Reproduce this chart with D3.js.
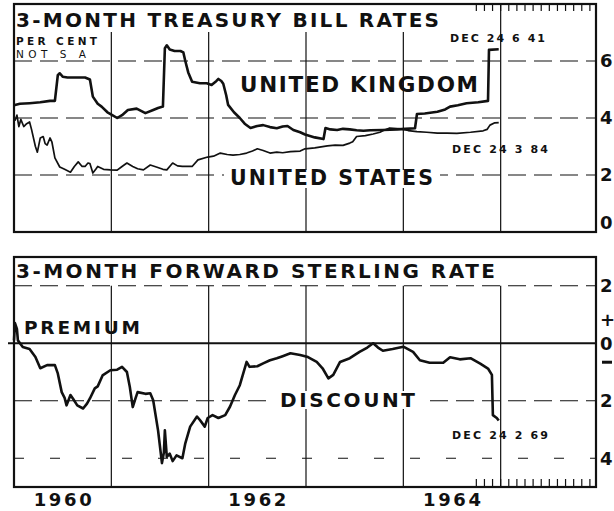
<!DOCTYPE html>
<html>
<head>
<meta charset="utf-8">
<script src="https://cdn.jsdelivr.net/npm/d3@7"></script>
<style>
  body { margin: 0; background: #fff; }
  svg { display: block; }
  text { font-family: "DejaVu Sans", sans-serif; font-weight: bold; fill: #111; }
</style>
</head>
<body>
<div id="chart"></div>
<script>
// weekly-ish readings, [decimal year, per cent]
var ukBill = [
  [1960.00, 4.45], [1960.06, 4.50], [1960.16, 4.52], [1960.27, 4.55], [1960.37, 4.60], [1960.42, 4.60],
  [1960.45, 5.50], [1960.47, 5.57], [1960.50, 5.45], [1960.55, 5.42], [1960.63, 5.42], [1960.73, 5.42],
  [1960.78, 5.35], [1960.81, 4.75], [1960.86, 4.50], [1960.90, 4.40], [1960.96, 4.20], [1961.01, 4.10],
  [1961.06, 4.00], [1961.11, 4.10], [1961.17, 4.28], [1961.26, 4.33], [1961.35, 4.17], [1961.43, 4.28],
  [1961.48, 4.35], [1961.53, 4.40], [1961.55, 6.45], [1961.57, 6.55], [1961.60, 6.40], [1961.65, 6.35],
  [1961.71, 6.35], [1961.74, 6.30], [1961.76, 6.00], [1961.79, 5.60], [1961.83, 5.27], [1961.91, 5.22],
  [1961.98, 5.22], [1962.03, 5.16], [1962.08, 5.30], [1962.10, 5.37], [1962.13, 5.30], [1962.15, 5.20],
  [1962.18, 4.80], [1962.20, 4.46], [1962.26, 4.20], [1962.32, 4.00], [1962.37, 3.80], [1962.43, 3.65],
  [1962.50, 3.72], [1962.56, 3.75], [1962.63, 3.68], [1962.70, 3.64], [1962.76, 3.70], [1962.81, 3.72],
  [1962.87, 3.58], [1962.94, 3.50], [1962.99, 3.42], [1963.09, 3.32], [1963.18, 3.26], [1963.20, 3.65],
  [1963.25, 3.60], [1963.32, 3.58], [1963.38, 3.62], [1963.45, 3.60], [1963.52, 3.57], [1963.59, 3.55],
  [1963.66, 3.57], [1963.79, 3.58], [1963.94, 3.60], [1964.02, 3.62], [1964.12, 3.64], [1964.14, 4.14],
  [1964.22, 4.16], [1964.35, 4.22], [1964.43, 4.30], [1964.48, 4.40], [1964.56, 4.45], [1964.65, 4.52],
  [1964.77, 4.55], [1964.87, 4.60], [1964.88, 6.39], [1964.98, 6.41]
];
var usBill = [
  [1960.01, 3.90], [1960.03, 4.10], [1960.05, 3.70], [1960.07, 3.95], [1960.10, 3.70], [1960.13, 3.80],
  [1960.16, 3.86], [1960.18, 3.60], [1960.22, 3.00], [1960.24, 2.80], [1960.27, 3.30], [1960.30, 3.35],
  [1960.32, 3.10], [1960.34, 3.05], [1960.37, 3.30], [1960.39, 3.15], [1960.42, 2.60], [1960.47, 2.28],
  [1960.52, 2.20], [1960.58, 2.10], [1960.62, 2.30], [1960.66, 2.46], [1960.70, 2.30], [1960.73, 2.30],
  [1960.76, 2.42], [1960.78, 2.40], [1960.81, 2.07], [1960.84, 2.20], [1960.86, 2.30], [1960.92, 2.20],
  [1960.99, 2.18], [1961.06, 2.17], [1961.11, 2.30], [1961.16, 2.42], [1961.22, 2.30], [1961.27, 2.22],
  [1961.33, 2.18], [1961.40, 2.35], [1961.47, 2.27], [1961.53, 2.20], [1961.57, 2.18], [1961.63, 2.42],
  [1961.68, 2.32], [1961.73, 2.30], [1961.83, 2.30], [1961.89, 2.53], [1961.99, 2.63], [1962.05, 2.66],
  [1962.12, 2.77], [1962.19, 2.72], [1962.25, 2.70], [1962.32, 2.72], [1962.39, 2.77], [1962.45, 2.84],
  [1962.50, 2.92], [1962.56, 2.86], [1962.63, 2.77], [1962.70, 2.80], [1962.76, 2.78], [1962.84, 2.82],
  [1962.94, 2.84], [1962.99, 2.92], [1963.09, 2.95], [1963.22, 3.02], [1963.30, 3.05], [1963.38, 3.04],
  [1963.45, 3.12], [1963.48, 3.17], [1963.52, 3.35], [1963.61, 3.38], [1963.69, 3.44], [1963.76, 3.50],
  [1963.79, 3.55], [1963.86, 3.65], [1963.97, 3.62], [1964.05, 3.56], [1964.14, 3.52], [1964.24, 3.50],
  [1964.35, 3.47], [1964.45, 3.47], [1964.55, 3.46], [1964.69, 3.50], [1964.82, 3.55], [1964.86, 3.60],
  [1964.89, 3.75], [1964.94, 3.83], [1964.98, 3.84]
];
// premium (+) / discount (-) per cent per annum
var fwdSterling = [
  [1960.00, 0.10], [1960.01, 0.70], [1960.03, 0.50], [1960.04, 0.10], [1960.09, -0.13], [1960.16, -0.20],
  [1960.22, -0.48], [1960.27, -0.87], [1960.34, -0.76], [1960.42, -0.76], [1960.45, -1.05], [1960.49, -1.70],
  [1960.52, -1.90], [1960.54, -2.16], [1960.58, -1.80], [1960.61, -1.95], [1960.65, -2.16], [1960.71, -2.27],
  [1960.75, -2.10], [1960.78, -1.92], [1960.83, -1.57], [1960.86, -1.50], [1960.91, -1.12], [1960.99, -0.94],
  [1961.06, -0.92], [1961.11, -0.82], [1961.16, -1.00], [1961.19, -1.52], [1961.22, -2.22], [1961.25, -1.90],
  [1961.27, -1.70], [1961.35, -1.76], [1961.40, -1.74], [1961.43, -1.98], [1961.48, -3.03], [1961.52, -4.17],
  [1961.54, -3.80], [1961.55, -3.03], [1961.57, -3.95], [1961.60, -3.84], [1961.63, -4.10], [1961.67, -3.90],
  [1961.73, -4.00], [1961.76, -3.48], [1961.81, -2.90], [1961.88, -2.55], [1961.91, -2.67], [1961.96, -2.90],
  [1961.99, -2.60], [1962.04, -2.50], [1962.10, -2.60], [1962.17, -2.50], [1962.22, -2.20], [1962.27, -1.80],
  [1962.32, -1.46], [1962.39, -0.65], [1962.42, -0.82], [1962.50, -0.80], [1962.56, -0.70], [1962.63, -0.59],
  [1962.70, -0.52], [1962.76, -0.45], [1962.84, -0.35], [1962.94, -0.41], [1963.02, -0.48], [1963.11, -0.65],
  [1963.17, -0.87], [1963.23, -1.22], [1963.28, -1.10], [1963.35, -0.65], [1963.45, -0.52], [1963.55, -0.30],
  [1963.63, -0.15], [1963.69, 0.00], [1963.74, -0.15], [1963.79, -0.26], [1963.89, -0.20], [1964.00, -0.12],
  [1964.10, -0.30], [1964.17, -0.59], [1964.27, -0.68], [1964.41, -0.68], [1964.48, -0.49], [1964.58, -0.56],
  [1964.69, -0.52], [1964.79, -0.71], [1964.87, -0.88], [1964.91, -1.10], [1964.92, -2.50], [1964.96, -2.60],
  [1964.98, -2.69]
];
var yearLines = [1961, 1962, 1963, 1964, 1965];
var yearLabels = [1960, 1962, 1964];
var topGrid = [2, 4, 6];
var topLabels = [0, 2, 4, 6];
var botGrid = [2, -2, -4];
var botLabels = [2, 0, -2, -4];

var W = 614, H = 511, L = 14, R = 596;

var svg = d3.select('#chart').append('svg')
  .attr('width', W)
  .attr('height', H);

var x = d3.scaleLinear().domain([1960, 1966]).range([L, 598]);
var yTop = d3.scaleLinear().domain([0, 8]).range([232, 4]);
var yBot = d3.scaleLinear().domain([-5, 3]).range([487, 257]);

var ink = '#111';

function hline(g, y, x1, x2, w, dash) {
  g.append('line')
    .attr('x1', x1).attr('x2', x2)
    .attr('y1', y).attr('y2', y)
    .style('stroke', ink)
    .style('stroke-width', w)
    .style('stroke-dasharray', dash || null);
}

function label(g, txt, x0, y0, size, len, anchor, weight) {
  return g.append('text')
    .attr('x', x0).attr('y', y0)
    .attr('font-size', size)
    .attr('textLength', len)
    .attr('lengthAdjust', 'spacing')
    .attr('text-anchor', anchor || 'start')
    .style('font-weight', weight || 'bold')
    .text(txt);
}

function mask(g, x0, y0, w, h) {
  g.append('rect').attr('x', x0).attr('y', y0).attr('width', w).attr('height', h).style('fill', '#fff');
}

// ---------- top panel ----------
var gTop = svg.append('g');

yearLines.forEach(function (yr) {
  gTop.append('line')
    .attr('x1', x(yr)).attr('x2', x(yr))
    .attr('y1', yTop(8)).attr('y2', yTop(0))
    .style('stroke', ink).style('stroke-width', 1.2);
});
topGrid.forEach(function (v) { hline(gTop, yTop(v), L, R, 1.2, '18,8'); });

// monthly ticks hanging from top edge
d3.range(0, 15).forEach(function (i) {
  var t = 1964.75 + i / 12;
  gTop.append('line')
    .attr('x1', x(t)).attr('x2', x(t))
    .attr('y1', yTop(8)).attr('y2', yTop(8) + 7)
    .style('stroke', ink).style('stroke-width', 1.2);
});

mask(gTop, L + 1, 5, 433, 27);
mask(gTop, 224, 170, 216, 18);

var line = d3.line()
  .x(function (d) { return x(d[0]); })
  .y(function (d) { return yTop(d[1]); });

gTop.append('path').datum(usBill)
  .attr('d', line)
  .style('fill', 'none').style('stroke', ink).style('stroke-width', 1.7)
  .style('stroke-linejoin', 'round');
gTop.append('path').datum(ukBill)
  .attr('d', line)
  .style('fill', 'none').style('stroke', ink).style('stroke-width', 2.6)
  .style('stroke-linejoin', 'round');

gTop.append('rect')
  .attr('x', L).attr('y', yTop(8)).attr('width', R - L).attr('height', yTop(0) - yTop(8))
  .style('fill', 'none').style('stroke', ink).style('stroke-width', 2.2);

label(gTop, '3-MONTH TREASURY BILL RATES', 16, 27, 20, 423);
label(gTop, 'PER CENT', 16, 45, 10.5, 81);
label(gTop, 'NOT S A', 16, 58, 10.5, 70, 'start', 'normal');
label(gTop, 'DEC 24 6 41', 450, 42, 11, 95);
label(gTop, 'UNITED KINGDOM', 240, 92, 21.5, 238);
label(gTop, 'UNITED STATES', 230, 185, 20.5, 203);
label(gTop, 'DEC 24 3 84', 452, 153, 11, 96);

topLabels.forEach(function (v) {
  gTop.append('text')
    .attr('x', 600)
    .attr('y', v === 0 ? yTop(v) - 9 : yTop(v))
    .attr('dy', '0.36em')
    .attr('font-size', 18)
    .text(v);
});

// ---------- bottom panel ----------
var gBot = svg.append('g');

yearLines.forEach(function (yr) {
  gBot.append('line')
    .attr('x1', x(yr)).attr('x2', x(yr))
    .attr('y1', yBot(2)).attr('y2', yBot(-5))
    .style('stroke', ink).style('stroke-width', 1.2);
});
botGrid.forEach(function (v) { hline(gBot, yBot(v), L, R, 1.2, v === -4 ? '10,26' : '18,8'); });
hline(gBot, yBot(0), 8, R, 2.2);

d3.range(0, 15).forEach(function (i) {
  var t = 1964.75 + i / 12;
  gBot.append('line')
    .attr('x1', x(t)).attr('x2', x(t))
    .attr('y1', yBot(-5)).attr('y2', yBot(-5) - 8)
    .style('stroke', ink).style('stroke-width', 1.2);
});

mask(gBot, 272, 391, 150, 18);

var lineB = d3.line()
  .x(function (d) { return x(d[0]); })
  .y(function (d) { return yBot(d[1]); });

gBot.append('path').datum(fwdSterling)
  .attr('d', lineB)
  .style('fill', 'none').style('stroke', ink).style('stroke-width', 2.6)
  .style('stroke-linejoin', 'round');

gBot.append('rect')
  .attr('x', L).attr('y', yBot(3)).attr('width', R - L).attr('height', yBot(-5) - yBot(3))
  .style('fill', 'none').style('stroke', ink).style('stroke-width', 2.2);

label(gBot, '3-MONTH FORWARD STERLING RATE', 16, 278, 20, 479);
label(gBot, 'PREMIUM', 24, 334, 18.5, 116);
label(gBot, 'DISCOUNT', 280, 407, 20, 135);
label(gBot, 'DEC 24 2 69', 452, 439, 11, 96);

botLabels.forEach(function (v) {
  gBot.append('text')
    .attr('x', 600)
    .attr('y', yBot(v))
    .attr('dy', '0.36em')
    .attr('font-size', 18)
    .text(Math.abs(v));
});
gBot.append('text').attr('x', 600).attr('y', yBot(0.81)).attr('dy', '0.36em').attr('font-size', 18).text('+');
// minus sign drawn as a short heavy bar
gBot.append('line')
  .attr('x1', 602).attr('x2', 612)
  .attr('y1', yBot(-0.66)).attr('y2', yBot(-0.66))
  .style('stroke', ink).style('stroke-width', 3);

// year labels centred in each year
yearLabels.forEach(function (yr) {
  label(svg, String(yr), x(yr + 0.5), 506, 18, 58, 'middle');
});
</script>
</body>
</html>
